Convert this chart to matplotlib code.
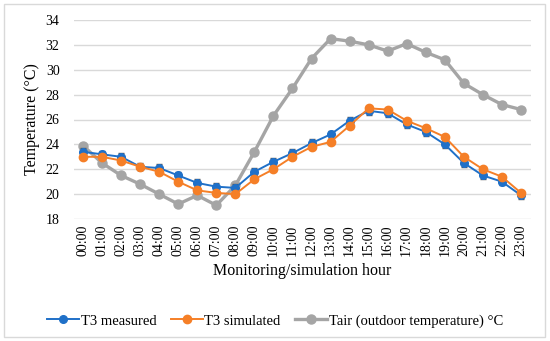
import numpy as np
import matplotlib
matplotlib.use('Agg')
import matplotlib.pyplot as plt
from matplotlib.patches import Rectangle
from matplotlib.lines import Line2D

# Werte
stunden = [f"{h:02d}:00" for h in range(24)]
t3_gemessen = [23.4, 23.2, 23.0, 22.2, 22.1, 21.5, 20.9, 20.6, 20.5, 21.8, 22.6, 23.3,
               24.1, 24.8, 25.9, 26.7, 26.5, 25.6, 25.0, 24.0, 22.5, 21.5, 21.0, 19.9]
t3_fehler = [0.3] * 24
t3_simuliert = [23.0, 23.0, 22.7, 22.2, 21.8, 21.0, 20.3, 20.1, 20.0, 21.2, 22.0, 23.0,
                23.8, 24.2, 25.5, 26.9, 26.8, 25.9, 25.3, 24.6, 23.0, 22.0, 21.4, 20.1]
t_aussen = [23.9, 22.5, 21.5, 20.8, 20.0, 19.2, 19.9, 19.1, 20.7, 23.4, 26.3, 28.5,
            30.9, 32.5, 32.3, 32.0, 31.5, 32.1, 31.4, 30.8, 28.9, 28.0, 27.2, 26.8]

blau = '#1F70C8'
orange = '#F57F27'
grau = '#A5A5A5'

plt.rcParams['font.family'] = ['Liberation Serif', 'DejaVu Serif']

fig = plt.figure(figsize=(5.5, 3.41), dpi=100)
ax = fig.add_axes([73.5/550, 1-219/341, 457/550, 199/341])

x = np.arange(len(stunden))
ax.plot(x, t_aussen, color=grau, lw=2.4, marker='o', ms=6.5, zorder=3)
ax.errorbar(x, t3_gemessen, yerr=t3_fehler, color=blau, lw=1.4, marker='o', ms=5.5,
            ecolor='#595959', elinewidth=1, capsize=2, zorder=4)
ax.plot(x, t3_simuliert, color=orange, lw=1.4, marker='o', ms=6, zorder=5)

ax.set_xlim(-0.5, 23.5)
ax.set_ylim(18, 34)
ax.set_yticks(range(18, 35, 2))
ax.set_xticks(x)
ax.set_xticklabels(stunden, rotation=90, fontsize=10)
ax.tick_params(axis='y', labelsize=10, length=0, pad=10)
ax.tick_params(axis='x', length=0, pad=4)
ax.grid(axis='y', color='#D9D9D9', lw=1)
ax.set_axisbelow(True)
for s in ax.spines.values():
    s.set_visible(False)

ax.set_ylabel('Temperature (°C)', fontsize=11.5, labelpad=4)
ax.set_xlabel('Monitoring/simulation hour', fontsize=11.5, labelpad=5)

handles = [Line2D([], [], color=blau, lw=1.4, marker='o', ms=5.5),
           Line2D([], [], color=orange, lw=1.4, marker='o', ms=6),
           Line2D([], [], color=grau, lw=2.4, marker='o', ms=6.5)]
labels = ['T3 measured', 'T3 simulated', 'Tair (outdoor temperature) °C']
fig.legend(handles, labels, loc='center', bbox_to_anchor=(0.5, 1-321/341), ncol=3,
           frameon=False, fontsize=10.5, handlelength=2.2, columnspacing=1.0,
           handletextpad=0.1)

fig.patches.append(Rectangle((4/550, 4/341), 541/550, 333/341, transform=fig.transFigure,
                             fill=False, edgecolor='#D9D9D9', lw=1))

fig.savefig('out.png', dpi=100)
